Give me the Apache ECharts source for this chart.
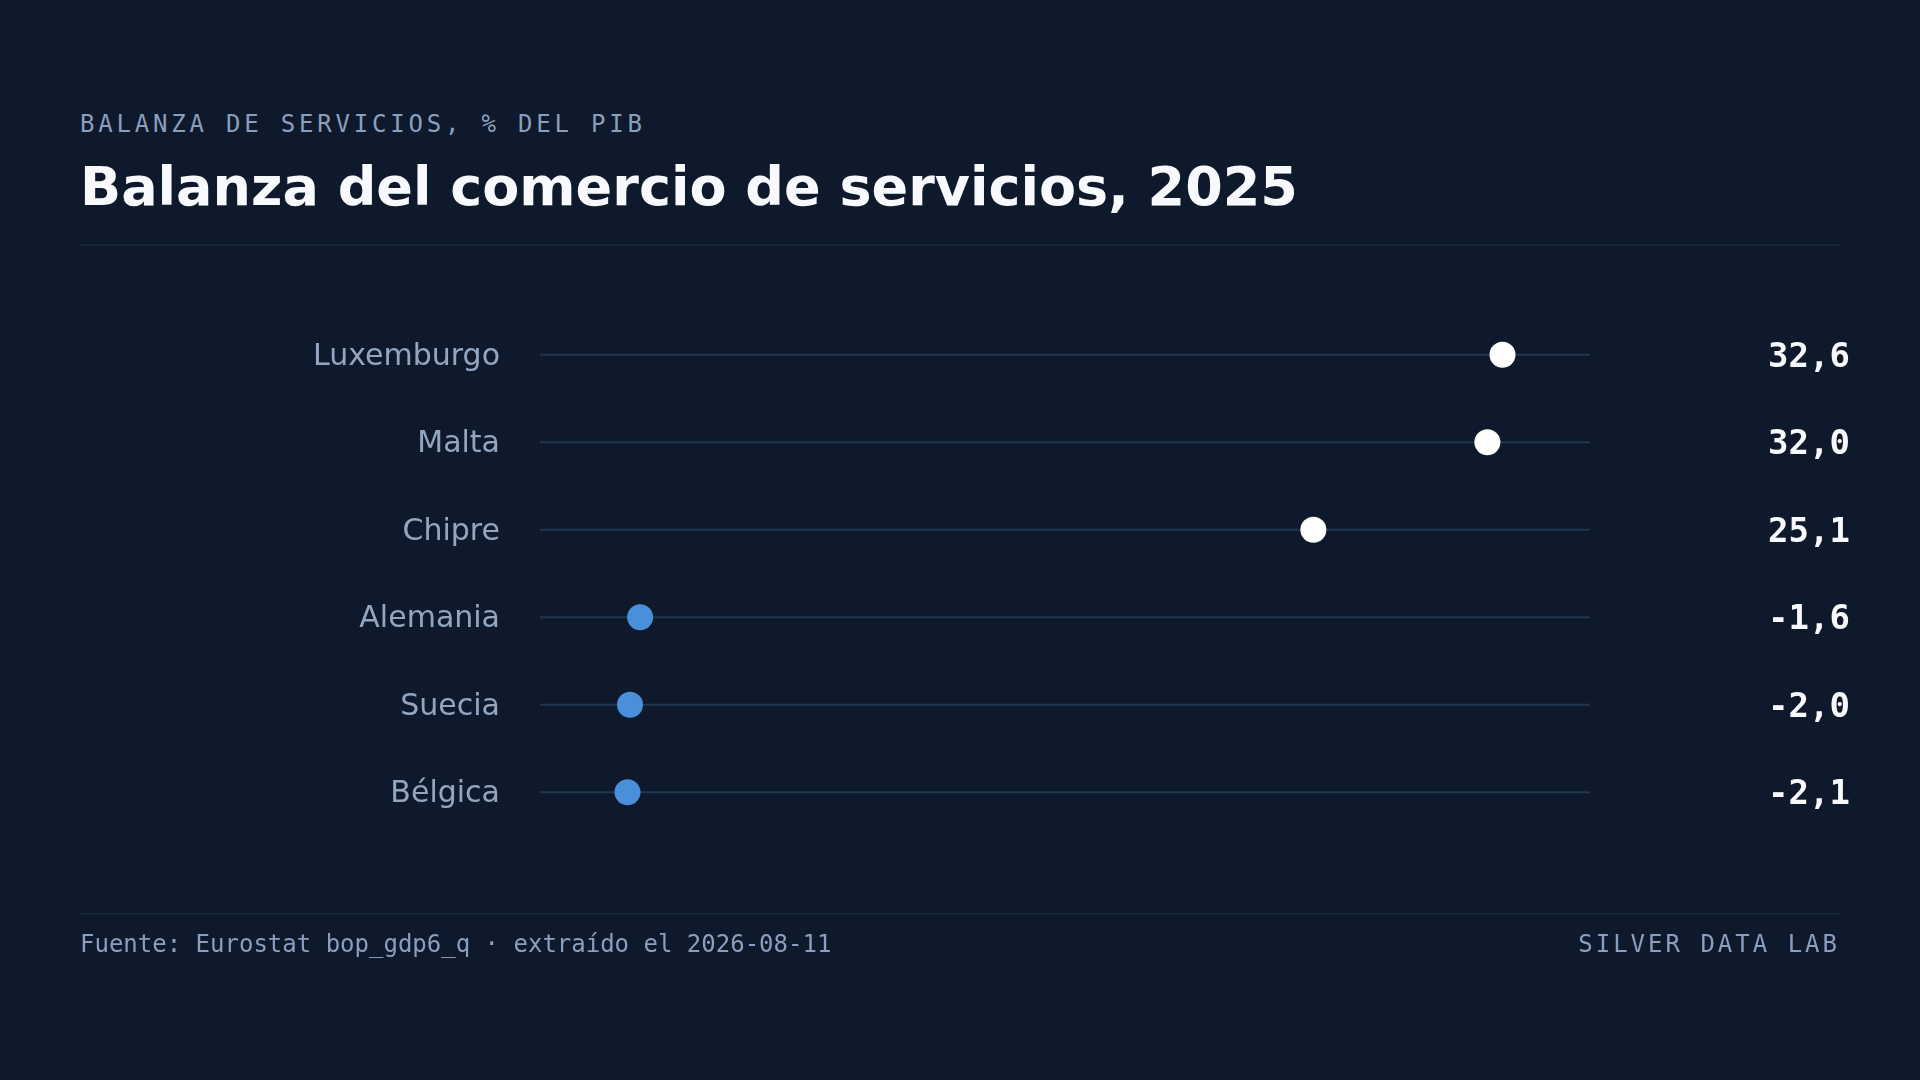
<!DOCTYPE html>
<html lang="es">
<head>
<meta charset="UTF-8">
<title>Balanza del comercio de servicios, 2025</title>
<script src="https://cdn.jsdelivr.net/npm/echarts@6/dist/echarts.min.js"></script>
<style>
    html, body { margin: 0; width: 1920px; height: 1080px; background: #0e1a2b; overflow: hidden; }
    .txt { position: absolute; white-space: nowrap; line-height: 1; }
    .mono { font-family: "DejaVu Sans Mono", monospace; font-size: 24px; color: #8a9fbd; }
    .rule { position: absolute; left: 80px; width: 1760px; height: 2px; background: #172539; }
</style>
</head>
<body>

<div class="txt mono" style="left:80px; top:112px; letter-spacing:3.8px;">BALANZA DE SERVICIOS, % DEL PIB</div>
<div class="txt" style="left:80px; top:160px; font-family:'DejaVu Sans',sans-serif; font-weight:bold; font-size:54px; color:#f7f9fc;">Balanza del comercio de servicios, 2025</div>
<div class="rule" style="top:244px;"></div>

<div id="container" style="position:absolute; left:0; top:0; width:1920px; height:1080px;"></div>

<div class="rule" style="top:913px;"></div>
<div class="txt mono" style="left:80px; top:932px;">Fuente: Eurostat bop_gdp6_q · extraído el 2026-08-11</div>
<div class="txt mono" style="right:80px; top:932px; letter-spacing:3px;">SILVER DATA LAB</div>

<script type="text/javascript">
    // datos: % del PIB
    var countries = ['Luxemburgo', 'Malta', 'Chipre', 'Alemania', 'Suecia', 'Bélgica'];
    var balance = [32.6, 32.0, 25.1, -1.6, -2.0, -2.1];
    var valueLabels = ['32,6', '32,0', '25,1', '-1,6', '-2,0', '-2,1'];

    var posColor = '#ffffff';
    var negColor = '#4a8fd9';

    var dataMin = Math.min.apply(null, balance);
    var dataMax = Math.max.apply(null, balance);
    var pad = (dataMax - dataMin) * 0.1;
    var xMin = dataMin - pad;
    var xMax = dataMax + pad;

    var myChart = echarts.init(document.getElementById('container'));

    var option = {
        animation: false,
        backgroundColor: 'transparent',
        grid: { left: 540, right: 330, top: 311, height: 525, containLabel: false },
        xAxis: {
            type: 'value',
            min: xMin,
            max: xMax,
            show: false
        },
        yAxis: [{
            type: 'category',
            inverse: true,
            data: countries,
            axisLine: { show: false },
            axisTick: { show: false },
            splitLine: { show: false },
            axisLabel: {
                margin: 40,
                formatter: function (v) { return '{c|' + v + '}'; },
                rich: {
                    c: {
                        padding: [4, 0, 0, 0],
                        color: '#93a6c0',
                        fontFamily: 'DejaVu Sans',
                        fontSize: 30
                    }
                }
            }
        }, {
            type: 'category',
            inverse: true,
            position: 'right',
            data: valueLabels,
            axisLine: { show: false },
            axisTick: { show: false },
            splitLine: { show: false },
            axisLabel: {
                margin: 260,
                align: 'right',
                formatter: function (v) { return '{v|' + v + '}'; },
                rich: {
                    v: {
                        padding: [6, 0, 0, 0],
                        color: '#f7f9fc',
                        fontFamily: 'DejaVu Sans Mono',
                        fontWeight: 'bold',
                        fontSize: 34
                    }
                }
            }
        }],
        series: [{
            type: 'custom',
            silent: true,
            data: countries.map(function (c, i) { return [i]; }),
            encode: { y: 0 },
            renderItem: function (params, api) {
                var idx = api.value(0);
                var a = api.coord([xMin, idx]);
                var b = api.coord([xMax, idx]);
                return {
                    type: 'line',
                    shape: { x1: a[0], y1: a[1], x2: b[0], y2: b[1] },
                    style: { stroke: '#22364f', lineWidth: 2 }
                };
            },
            z: 1
        }, {
            type: 'scatter',
            symbolSize: 26,
            data: balance.map(function (v, i) {
                return { value: [v, i], itemStyle: { color: v >= 0 ? posColor : negColor, opacity: 1 } };
            }),
            z: 3
        }]
    };

    myChart.setOption(option);
</script>
</body>
</html>
